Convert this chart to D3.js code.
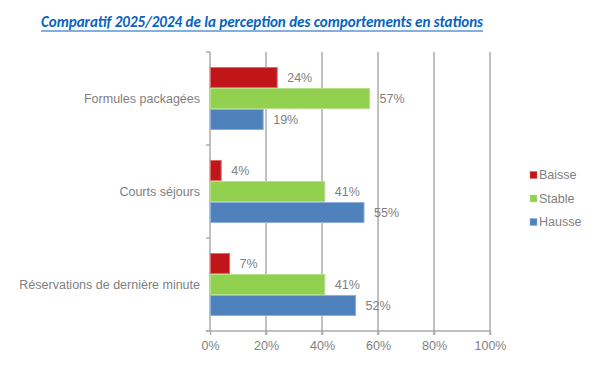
<!DOCTYPE html>
<html><head><meta charset="utf-8">
<script src="https://cdn.jsdelivr.net/npm/d3@7"></script>
<style>body{margin:0;background:#fff}svg{display:block}</style>
</head><body>
<svg id="c" width="609" height="378"></svg>
<script>
const categories = ["Formules packagées", "Courts séjours", "Réservations de dernière minute"];
const seriesNames = ["Baisse", "Stable", "Hausse"];
const baisse = [24, 4, 7];
const stable = [57, 41, 41];
const hausse = [19, 55, 52];
const xTicks = [0, 20, 40, 60, 80, 100];
const title = "Comparatif 2025/2024 de la perception des comportements en stations";

const colors = {Baisse: "#C0161A", Stable: "#92D050", Hausse: "#4F81BD"};
const strokes = {Baisse: "#D96B6B", Stable: "#B5E08A", Hausse: "#8EAEDB"};
const values = {Baisse: baisse, Stable: stable, Hausse: hausse};

const svg = d3.select("#c");
const m = {l: 210, r: 490, t: 52, b: 331};
const x = d3.scaleLinear().domain([0, 100]).range([m.l, m.r]);
const y = d3.scaleBand().domain(categories).range([m.t, m.b]).paddingInner(0).paddingOuter(0);
const inner = d3.scaleBand().domain(seriesNames).range([15.5, y.bandwidth() - 15.5]).paddingInner(0.05);
const textCol = "#7F7F7F";
const font = "Liberation Sans, Arial, sans-serif";

// title
const t = svg.append("text").attr("x", 262).attr("y", 27).attr("text-anchor", "middle")
  .attr("font-family", "Carlito, 'Open Sans', sans-serif").attr("font-weight", "bold").attr("font-style", "italic")
  .attr("font-size", 16).attr("fill", "#0563C1").attr("textLength", 442).attr("lengthAdjust", "spacingAndGlyphs")
  .text(title);
svg.append("line").attr("x1", 41).attr("x2", 483).attr("y1", 31).attr("y2", 31)
  .attr("stroke", "#0563C1").attr("stroke-width", 1.2);

// gridlines
svg.append("g").selectAll("line").data(xTicks.filter(d => d > 0)).join("line")
  .attr("x1", d => x(d)).attr("x2", d => x(d)).attr("y1", m.t).attr("y2", m.b + 4)
  .attr("stroke", "#ABABAB").attr("stroke-width", 1.5);

// bottom axis
const xAxis = svg.append("g").attr("transform", `translate(0,${m.b})`)
  .call(d3.axisBottom(x).tickValues(xTicks).tickFormat(d => d + "%").tickSize(4).tickPadding(6));
xAxis.select(".domain").attr("stroke", "#ABABAB").attr("stroke-width", 1.5).attr("d", `M${m.l - 4},0H${m.r}`);
xAxis.selectAll(".tick line").attr("stroke", "#ABABAB").attr("stroke-width", 1.5);
xAxis.selectAll(".tick text").attr("fill", textCol).attr("font-family", font).attr("font-size", 12.5);

// left axis
const bounds = [m.t].concat(categories.map(c => y(c) + y.bandwidth()));
svg.append("line").attr("x1", m.l).attr("x2", m.l).attr("y1", m.t).attr("y2", m.b)
  .attr("stroke", "#ABABAB").attr("stroke-width", 1.5);
svg.append("g").selectAll("line").data(bounds).join("line")
  .attr("x1", m.l - 4).attr("x2", m.l).attr("y1", d => d).attr("y2", d => d)
  .attr("stroke", "#ABABAB").attr("stroke-width", 1.5);
svg.append("g").selectAll("text").data(categories).join("text")
  .attr("x", 200).attr("y", d => y(d) + y.bandwidth() / 2).attr("dy", "0.35em")
  .attr("text-anchor", "end").attr("fill", textCol).attr("font-family", font).attr("font-size", 12.5)
  .text(d => d);

// bars
const rows = [];
categories.forEach((c, i) => seriesNames.forEach(s => rows.push({c, s, v: values[s][i]})));
svg.append("g").selectAll("rect").data(rows).join("rect")
  .attr("x", m.l + 0.5).attr("y", d => y(d.c) + inner(d.s))
  .attr("width", d => x(d.v) - m.l - 0.5).attr("height", inner.bandwidth())
  .attr("fill", d => colors[d.s]).attr("stroke", d => strokes[d.s]).attr("stroke-width", 1);
svg.append("g").selectAll("text").data(rows).join("text")
  .attr("x", d => x(d.v) + 10).attr("y", d => y(d.c) + inner(d.s) + inner.bandwidth() / 2).attr("dy", "0.35em")
  .attr("fill", textCol).attr("font-family", font).attr("font-size", 12.5)
  .text(d => d.v + "%");

// legend
const lg = svg.append("g").selectAll("g").data(seriesNames).join("g")
  .attr("transform", (d, i) => `translate(530,${175 + i * 23.5})`);
lg.append("rect").attr("x", 0).attr("y", -3.5).attr("width", 7).attr("height", 7)
  .attr("fill", d => colors[d]).attr("stroke", d => strokes[d]).attr("stroke-width", 0.5);
lg.append("text").attr("x", 9).attr("dy", "0.35em").attr("fill", textCol)
  .attr("font-family", font).attr("font-size", 12.5).text(d => d);
</script>
</body></html>
